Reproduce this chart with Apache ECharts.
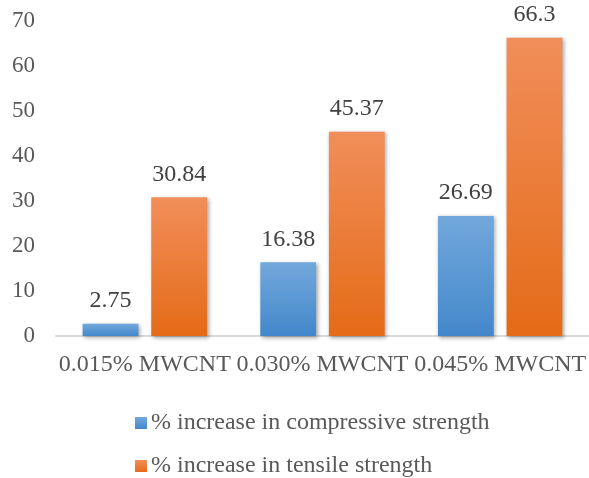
<!DOCTYPE html>
<html>
<head>
<meta charset="utf-8">
<script src="https://cdn.jsdelivr.net/npm/echarts@6/dist/echarts.min.js"></script>
<style>
  html, body { margin: 0; padding: 0; background: #fff; }
  #chart { width: 589px; height: 478px; }
</style>
</head>
<body>
<div id="chart"></div>
<script>
  let categories = ["0.015% MWCNT", "0.030% MWCNT", "0.045% MWCNT"];
  let compressive = [2.75, 16.38, 26.69];
  let tensile = [30.84, 45.37, 66.3];
  let seriesNames = ["% increase in compressive strength", "% increase in tensile strength"];

  let font = "'Liberation Serif', 'Times New Roman', serif";

  function grad(top, bottom) {
    return new echarts.graphic.LinearGradient(0, 0, 0, 1, [
      { offset: 0, color: top },
      { offset: 1, color: bottom }
    ]);
  }

  let barShadow = {
    shadowColor: "rgba(0,0,0,0.35)",
    shadowBlur: 4,
    shadowOffsetX: 1.5,
    shadowOffsetY: 1.5
  };

  let legendText = { fontFamily: font, fontSize: 24, color: "#595959", padding: [0, 0, 0, -1] };

  let option = {
    animation: false,
    textStyle: { fontFamily: font },
    grid: {
      left: 56,
      top: 21,
      width: 537,
      height: 315
    },
    legend: [
      {
        left: 130,
        top: 406,
        itemWidth: 12,
        itemHeight: 12,
        icon: "rect",
        textStyle: legendText,
        data: [seriesNames[0]]
      },
      {
        left: 130,
        top: 449,
        itemWidth: 12,
        itemHeight: 12,
        icon: "rect",
        textStyle: legendText,
        data: [seriesNames[1]]
      }
    ],
    xAxis: {
      type: "category",
      data: categories,
      axisLine: { lineStyle: { color: "#d9d9d9", width: 2 } },
      axisTick: { show: false },
      axisLabel: { fontFamily: font, fontSize: 24, color: "#595959", margin: 17, interval: 0 }
    },
    yAxis: {
      type: "value",
      min: 0,
      max: 70,
      interval: 10,
      axisLine: { show: false },
      axisTick: { show: false },
      splitLine: { show: false },
      axisLabel: { fontFamily: font, fontSize: 23, color: "#595959", margin: 21 }
    },
    series: [
      {
        name: seriesNames[0],
        type: "bar",
        data: compressive,
        barGap: "23%",
        barCategoryGap: "30%",
        itemStyle: Object.assign({ color: grad("#72a8dc", "#4387ca") }, barShadow),
        label: {
          show: true,
          position: "top",
          distance: 11,
          fontFamily: font,
          fontSize: 24,
          color: "#404040"
        }
      },
      {
        name: seriesNames[1],
        type: "bar",
        data: tensile,
        itemStyle: Object.assign({ color: grad("#f18e5a", "#e46b17") }, barShadow),
        label: {
          show: true,
          position: "top",
          distance: 11,
          fontFamily: font,
          fontSize: 24,
          color: "#404040"
        }
      }
    ]
  };

  let chart = echarts.init(document.getElementById("chart"));
  chart.setOption(option);
</script>
</body>
</html>
